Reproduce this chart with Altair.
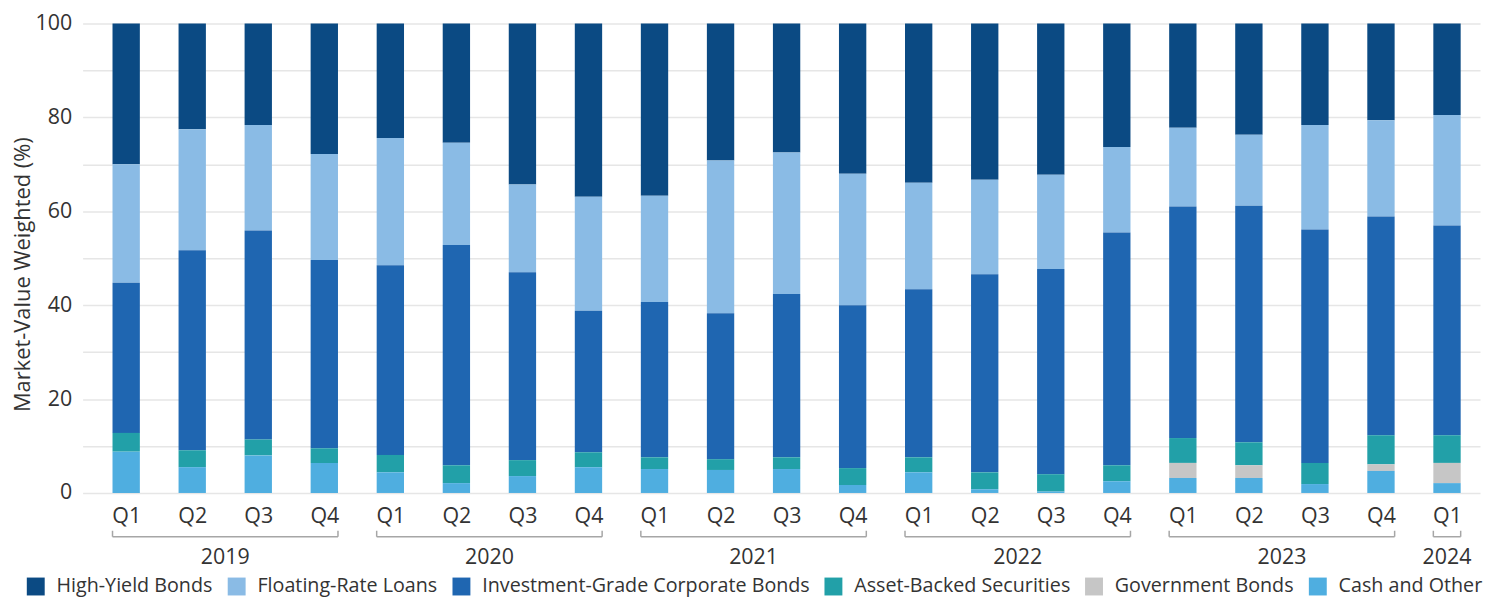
import altair as alt
import pandas as pd

quarters = ["Q1", "Q2", "Q3", "Q4"] * 5 + ["Q1"]

series = ["High-Yield Bonds", "Floating-Rate Loans", "Investment-Grade Corporate Bonds",
          "Asset-Backed Securities", "Government Bonds", "Cash and Other"]
colors = ["#0b4a83", "#8abbe5", "#1f66b1", "#22a0a8", "#c6c6c6", "#4faee0"]

high_yield = [30.0, 22.5, 21.6, 27.8, 24.4, 25.4, 34.3, 36.9, 36.7, 29.2, 27.5, 32.0,
              33.9, 33.3, 32.2, 26.3, 22.2, 23.7, 21.6, 20.6, 19.5]
floating = [25.2, 25.8, 22.5, 22.6, 27.1, 21.8, 18.7, 24.3, 22.6, 32.5, 30.1, 28.0,
            22.7, 20.1, 20.1, 18.2, 16.8, 15.1, 22.3, 20.5, 23.5]
inv_grade = [32.0, 42.6, 44.5, 40.1, 40.4, 46.9, 40.0, 30.1, 33.1, 31.1, 34.8, 34.7,
             35.8, 42.2, 43.7, 49.6, 49.3, 50.4, 49.7, 46.6, 44.7]
abs_sec = [4.0, 3.6, 3.4, 3.1, 3.7, 3.8, 3.4, 3.2, 2.5, 2.3, 2.5, 3.6,
           3.2, 3.6, 3.7, 3.4, 5.3, 4.9, 4.5, 6.2, 5.9]
gov = [0, 0, 0, 0, 0, 0, 0, 0, 0, 0, 0, 0,
       0, 0, 0, 0, 3.2, 2.7, 0, 1.4, 4.3]
cash = [8.8, 5.5, 8.0, 6.4, 4.4, 2.1, 3.6, 5.5, 5.1, 4.9, 5.1, 1.7,
        4.4, 0.8, 0.3, 2.5, 3.2, 3.2, 1.9, 4.7, 2.1]

year_labels = ["2019", "2020", "2021", "2022", "2023", "2024"]
year_start = [0, 4, 8, 12, 16, 20]
year_end = [3, 7, 11, 15, 19, 20]

HALF = 0.207
FONT = "Open Sans"
TXT = "#333333"

rows = []
for s_i, (name, vals) in enumerate(zip(series, [high_yield, floating, inv_grade, abs_sec, gov, cash])):
    for i, v in enumerate(vals):
        rows.append({"idx": i, "quarter": quarters[i], "series": name, "value": v, "ord": 5 - s_i})
df = pd.DataFrame(rows)

ydf = pd.DataFrame({"year": year_labels, "s": year_start, "e": year_end})

xscale = alt.Scale(domain=[-0.66, 20.5], nice=False, zero=False)

bars = alt.Chart(df).transform_stack(
    stack="value", groupby=["idx"], as_=["y0", "y1"],
    sort=[alt.SortField("ord", order="ascending")]
).transform_calculate(
    x0=f"datum.idx - {HALF}", x1=f"datum.idx + {HALF}"
).mark_bar().encode(
    x=alt.X("x0:Q", scale=xscale,
            axis=alt.Axis(values=list(range(21)), title=None, grid=False, domain=False,
                          ticks=False, labelFont=FONT, labelFontSize=21.5, labelColor=TXT,
                          labelPadding=13,
                          labelExpr="['Q1','Q2','Q3','Q4'][datum.value % 4]")),
    x2="x1:Q",
    y=alt.Y("y0:Q",
            scale=alt.Scale(domain=[0, 100], nice=False),
            axis=alt.Axis(values=list(range(0, 101, 10)), title="Market-Value Weighted (%)",
                          labelExpr="datum.value % 20 == 0 ? datum.label : ''",
                          grid=True, gridColor="#e6e6e6", gridWidth=1.5,
                          domain=False, ticks=False,
                          labelFont=FONT, labelFontSize=21.5, labelColor=TXT, labelPadding=11,
                          titleFont=FONT, titleFontSize=22, titleColor=TXT,
                          titleFontWeight="normal", titleX=-48, titleY=252,
                          titleAngle=270, titleAlign="center", titleBaseline="bottom")),
    y2="y1:Q",
    color=alt.Color("series:N", scale=alt.Scale(domain=series, range=colors),
                    legend=alt.Legend(title=None, orient="none", direction="horizontal",
                                      legendX=-57, legendY=556,
                                      symbolType="square", symbolSize=324,
                                      symbolStrokeWidth=0, symbolOpacity=1,
                                      labelFont=FONT, labelFontSize=19.8, labelColor=TXT,
                                      labelOffset=11, columnPadding=14, labelLimit=600)),
)

bracket = alt.Chart(ydf).transform_calculate(
    a=f"datum.s - {HALF}", b=f"datum.e + {HALF}"
).mark_rule(color="#a6a6a6", strokeWidth=1.5).encode(
    x=alt.X("a:Q", scale=xscale), x2="b:Q", y=alt.value(516)
)
tick_l = alt.Chart(ydf).transform_calculate(a=f"datum.s - {HALF}").mark_rule(
    color="#a6a6a6", strokeWidth=1.5).encode(
    x=alt.X("a:Q", scale=xscale), y=alt.value(510), y2=alt.value(516))
tick_r = alt.Chart(ydf).transform_calculate(b=f"datum.e + {HALF}").mark_rule(
    color="#a6a6a6", strokeWidth=1.5).encode(
    x=alt.X("b:Q", scale=xscale), y=alt.value(510), y2=alt.value(516))
ytext = alt.Chart(ydf).transform_calculate(m="(datum.s + datum.e) / 2").mark_text(
    font=FONT, fontSize=21.5, color=TXT, baseline="middle", align="center").encode(
    x=alt.X("m:Q", scale=xscale), y=alt.value(537), text="year:N")

chart = alt.layer(bars, bracket, tick_l, tick_r, ytext).properties(
    width=1405, height=472,
    autosize=alt.AutoSizeParams(type="none"),
    padding={"left": 75, "top": 14, "right": 5, "bottom": 104},
).configure_view(stroke=None)

chart.save("out.html", embed_options={"renderer": "svg", "actions": False})
